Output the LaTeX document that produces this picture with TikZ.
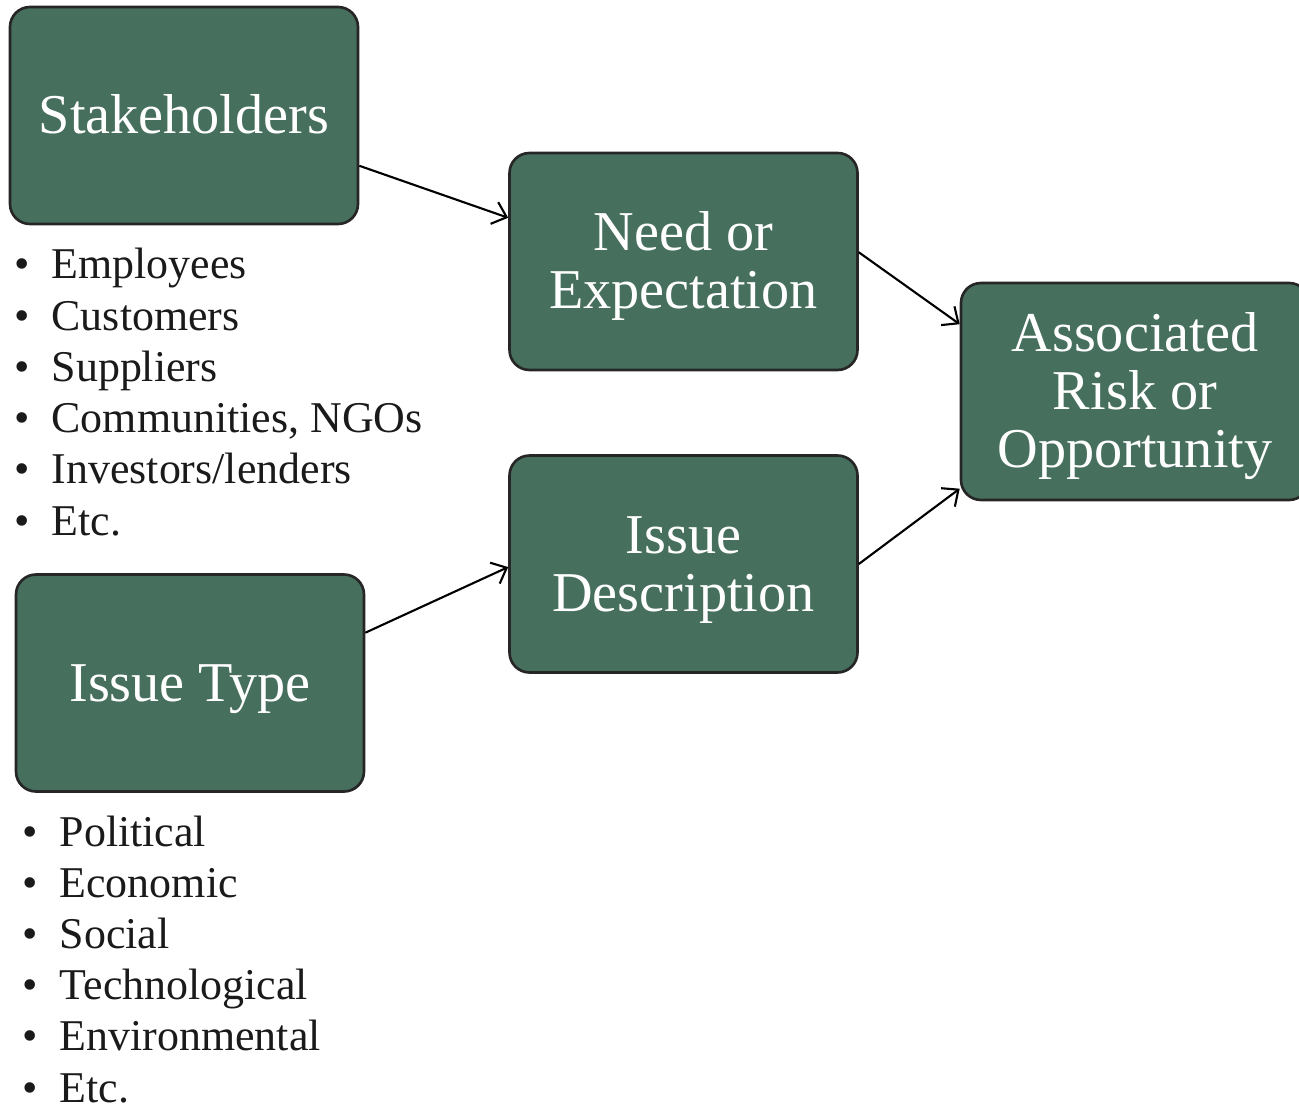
\documentclass[tikz,border=0pt]{standalone}
\usepackage{fontspec}
\setmainfont{Liberation Serif}
\usetikzlibrary{arrows.meta}
\definecolor{boxgreen}{HTML}{466F5D}
\definecolor{listgray}{HTML}{1A1A1A}
\newcommand{\topic}[3]{%
 \node[topic] ({#1}) at ({#2}) {\rule{0pt}{0.95em}#3\strut};%
}
\newcommand{\bul}{\makebox[0.85em][l]{\textbullet}}
\begin{document}
\begin{tikzpicture}[
   topic/.style={draw=black!85,line width=1.5pt,fill=boxgreen,rounded corners=0.4cm,
     minimum width=6.96cm,minimum height=4.34cm,align=center,text=white,
     font=\fontsize{32}{33}\selectfont},
   entry/.style={anchor=base west,inner sep=0pt,text=listgray,
     font=\fontsize{25}{29}\selectfont},
   link/.style={line width=1.2pt,-{Straight Barb[length=2.6mm,width=4.6mm]}}]
   \useasboundingbox (0,0) rectangle (25.98,-22.12);
   \topic{stake}{3.68,-2.31}{Stakeholders};
   \topic{need}{13.67,-5.23}{Need or\\Expectation};
   \topic{assoc}{22.7,-7.83}{Associated\\Risk or\\Opportunity};
   \topic{desc}{13.67,-11.28}{Issue\\Description};
   \topic{type}{3.8,-13.66}{Issue Type};
   \foreach \t [count=\i] in {Employees,Customers,Suppliers,{Communities, NGOs},Investors/lenders,Etc.}
      \node[entry] (s\i) at (0.28,-5.58-1.024*\i+1.024) {\bul\t};
   \foreach \t [count=\i] in {Political,Economic,Social,Technological,Environmental,Etc.}
      \node[entry] (p\i) at (0.44,-16.92-1.024*\i+1.024) {\bul\t};
   \path[link] (stake.-16.8) edge (need.166.9);
   \path[link] (need.3.7) edge (assoc.159.1);
   \path[link] (desc.0.6) edge (assoc.-151.5);
   \path[link] (type.16.8) edge (desc.181);
\end{tikzpicture}
\end{document}
